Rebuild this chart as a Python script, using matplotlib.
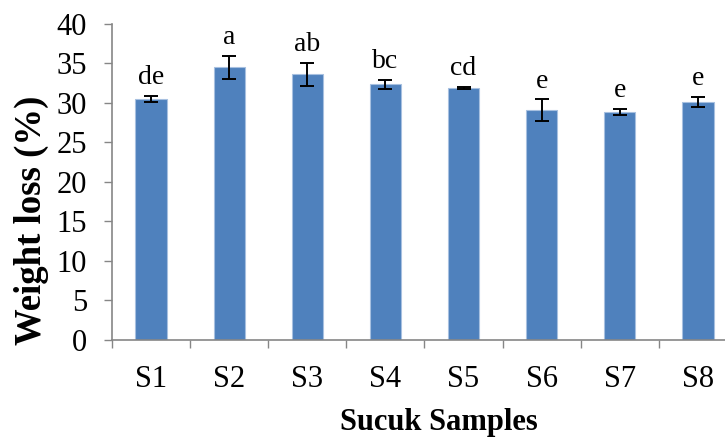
import numpy as np
import matplotlib
matplotlib.use("Agg")
import matplotlib.pyplot as plt

samples = ["S1", "S2", "S3", "S4", "S5", "S6", "S7", "S8"]
weight_loss = [30.5, 34.5, 33.65, 32.35, 31.9, 29.05, 28.85, 30.1]
sd = [0.38, 1.5, 1.45, 0.58, 0.12, 1.4, 0.43, 0.67]
letters = ["de", "a", "ab", "bc", "cd", "e", "e", "e"]

plt.rcParams["font.family"] = ["Liberation Serif", "DejaVu Serif"]

fig = plt.figure(figsize=(7.25, 4.40), dpi=100)
ax = fig.add_axes([0.1545, 0.2284, 0.862, 0.717])

x = np.arange(len(samples))
ax.bar(x, weight_loss, width=0.4, color="#4F81BD", edgecolor="#A7C0E0", linewidth=0.8, zorder=2)
ax.errorbar(x, weight_loss, yerr=sd, fmt="none", ecolor="black", elinewidth=1.4,
            capsize=5, capthick=1.4, zorder=3)

for xi, v, e, lab in zip(x, weight_loss, sd, letters):
    ax.annotate(lab, (xi, v + e), xytext=(0, 4), textcoords="offset points",
                ha="center", va="bottom", fontsize=20)

ax.set_xlim(-0.5, len(samples) - 0.5)
ax.set_ylim(0, 40)
ax.set_yticks(range(0, 41, 5))
ax.tick_params(axis="y", labelsize=22, length=6, width=1, color="#868686", pad=12)

ax.set_xticks(np.arange(-0.5, len(samples), 1.0))
ax.set_xticklabels([])
ax.set_xticks(x, minor=True)
ax.set_xticklabels(samples, minor=True)
ax.tick_params(axis="x", which="major", length=6, width=1, color="#868686")
ax.tick_params(axis="x", which="minor", length=0, labelsize=22, pad=18)

for side in ["top", "right"]:
    ax.spines[side].set_visible(False)
for side in ["left", "bottom"]:
    ax.spines[side].set_color("#868686")
    ax.spines[side].set_linewidth(1.2)

fig.text(0.043, 0.5, "Weight loss (%)", rotation=90, ha="center", va="center",
         fontsize=26.5, fontweight="bold")
fig.text(0.606, 0.006, "Sucuk Samples", ha="center", va="bottom",
         fontsize=22, fontweight="bold")

plt.savefig("out.png", dpi=100)
plt.close()
